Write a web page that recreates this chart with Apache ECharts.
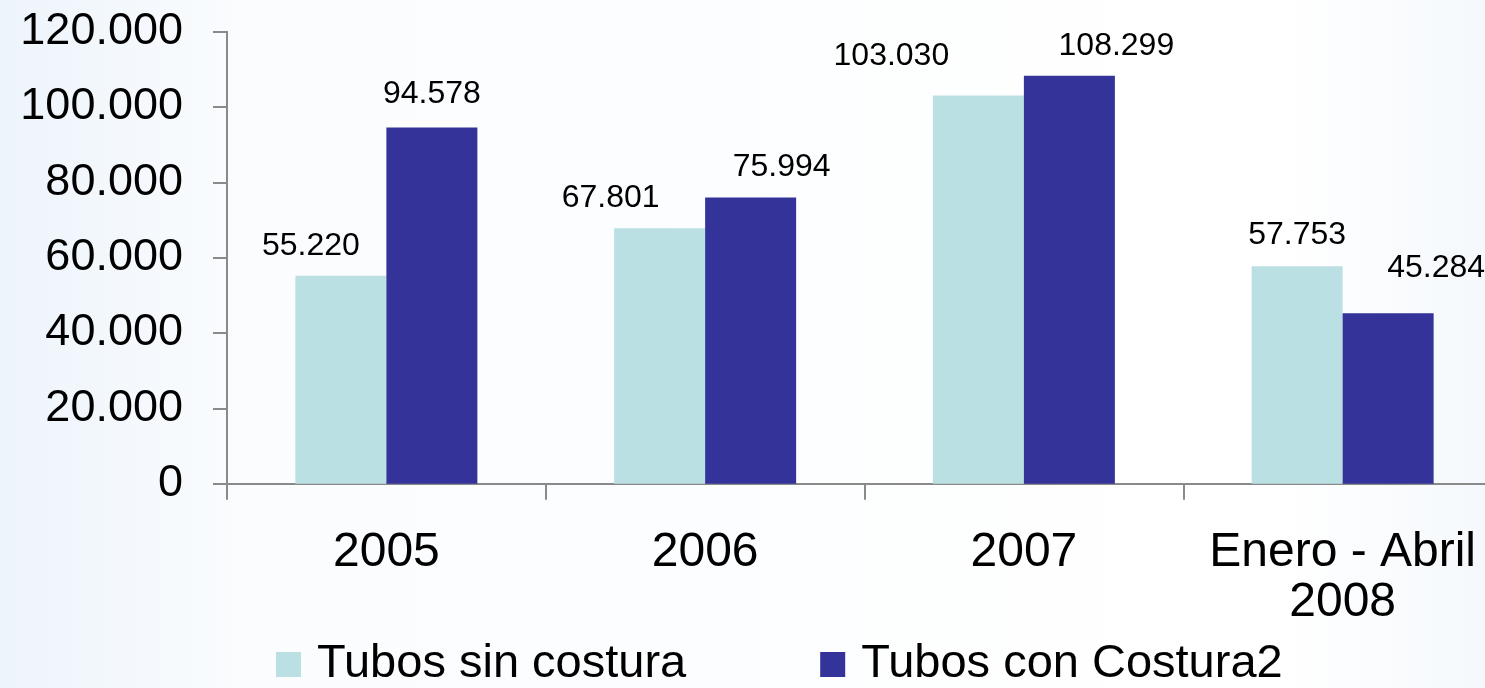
<!DOCTYPE html>
<html>
<head>
<meta charset="utf-8">
<script src="https://cdn.jsdelivr.net/npm/echarts@6/dist/echarts.min.js"></script>
<style>
html,body{margin:0;padding:0;background:#fff;overflow:hidden;width:1485px;height:688px;}
#chart{width:1503px;height:688px;}
</style>
</head>
<body>
<div id="chart"></div>
<script>
// ---- data ----
const categories = ['2005', '2006', '2007', 'Enero - Abril\n2008'];
const seriesNames = ['Tubos sin costura', 'Tubos con Costura2'];
const sinCostura = [55220, 67801, 103030, 57753];
const conCostura = [94578, 75994, 108299, 45284];
const yTicks = [0, 20000, 40000, 60000, 80000, 100000, 120000];

// ---- label placement tweaks (layout only) ----
const sinLabelDx = [-30, -49, -87, 0];
const sinLabelDist = [14, 14.5, 23, 14.5];
const conLabelDx = [0, 31, 47, 48];
const conLabelDist = [17.5, 14.5, 14, 28.5];

const fmt = v => String(v).replace(/\B(?=(\d{3})+(?!\d))/g, '.');
const FONT = '"Liberation Sans", Arial, sans-serif';

function buildData(values, dxs, dists) {
  return values.map((v, i) => ({
    value: v,
    label: { offset: [dxs[i], 0], distance: dists[i] }
  }));
}

const chart = echarts.init(document.getElementById('chart'), null, { renderer: 'canvas' });
chart.setOption({
  animation: false,
  backgroundColor: {
    type: 'linear', x: 0, y: 0, x2: 1, y2: 0,
    colorStops: [
      { offset: 0, color: '#edf4fb' },
      { offset: 0.16, color: '#fafcfe' },
      { offset: 0.85, color: '#ffffff' },
      { offset: 1, color: '#f4f8fc' }
    ]
  },
  grid: { left: 227, right: 1, top: 31.7, bottom: 688 - 483.7, containLabel: false },
  legend: {
    data: seriesNames,
    left: 276,
    top: 641,
    padding: 0,
    icon: 'rect',
    itemWidth: 25,
    itemHeight: 25,
    itemGap: 134,
    textStyle: { fontFamily: FONT, fontSize: 47, color: '#000', padding: [0, 0, 0, 11] }
  },
  xAxis: {
    type: 'category',
    data: categories,
    axisLine: { lineStyle: { color: '#8a8a8a', width: 2 } },
    axisTick: { show: true, length: 16, lineStyle: { color: '#8a8a8a', width: 2 } },
    axisLabel: {
      fontFamily: FONT, fontSize: 48, lineHeight: 50, color: '#000', margin: 44, interval: 0
    },
    splitLine: { show: false }
  },
  yAxis: {
    type: 'value',
    min: yTicks[0],
    max: yTicks[yTicks.length - 1],
    interval: yTicks[1] - yTicks[0],
    axisLine: { show: true, lineStyle: { color: '#8a8a8a', width: 2 } },
    axisTick: { show: true, length: 14, lineStyle: { color: '#8a8a8a', width: 2 } },
    axisLabel: { fontFamily: FONT, fontSize: 45, color: '#000', margin: 44, formatter: fmt },
    splitLine: { show: false }
  },
  series: [
    {
      name: seriesNames[0],
      type: 'bar',
      data: buildData(sinCostura, sinLabelDx, sinLabelDist),
      barWidth: 91,
      barGap: '0%',
      itemStyle: { color: '#bbe0e3' },
      label: { show: true, position: 'top', fontFamily: FONT, fontSize: 32, color: '#000',
        formatter: p => fmt(p.value) }
    },
    {
      name: seriesNames[1],
      type: 'bar',
      data: buildData(conCostura, conLabelDx, conLabelDist),
      barWidth: 91,
      barGap: '0%',
      itemStyle: { color: '#333399' },
      label: { show: true, position: 'top', fontFamily: FONT, fontSize: 32, color: '#000',
        formatter: p => fmt(p.value) }
    }
  ]
});
</script>
</body>
</html>
